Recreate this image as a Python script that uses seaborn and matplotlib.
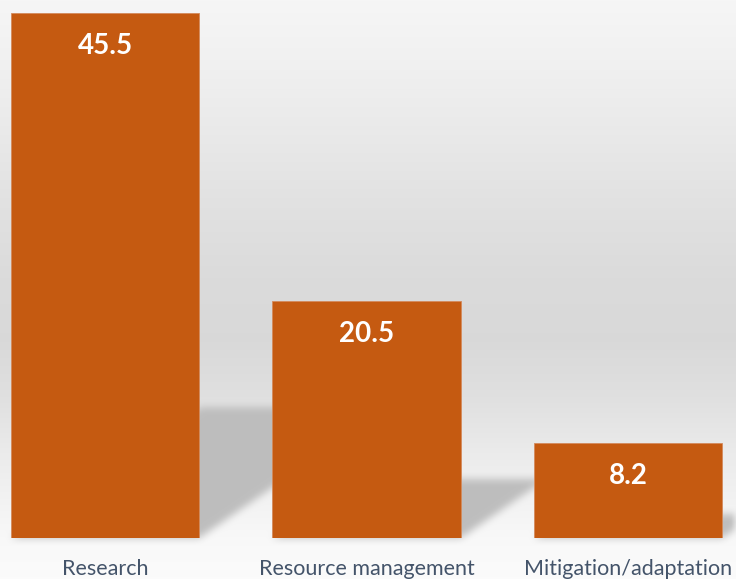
import matplotlib
matplotlib.use("Agg")
import matplotlib.pyplot as plt
from matplotlib.path import Path
import numpy as np
import seaborn as sns

# chart data
categories = ["Research", "Resource management", "Mitigation/adaptation"]
values = [45.5, 20.5, 8.2]
value_labels = ["45.5", "20.5", "8.2"]

BAR_COLOR = "#C55A11"
TEXT_COLOR = "#44546A"
W, H = 736, 579
DPI = 100

sns.set_style("white")
plt.rcParams["font.family"] = ["Lato", "DejaVu Sans"]

fig = plt.figure(figsize=(W / DPI, H / DPI), dpi=DPI)
fig.patch.set_facecolor("white")
ax = fig.add_axes([0, (H - 538) / H, 1, (538 - 13) / H])
ax.set_facecolor("none")

sns.barplot(x=categories, y=values, color=BAR_COLOR, saturation=1, width=0.72,
            edgecolor="#D48A5C", linewidth=0.6, ax=ax, zorder=3)
ax.set_ylim(0, 45.5)
ax.set_xlim(-0.4015, 2.413)
ax.set_yticks([])
ax.set_xlabel("")
ax.set_ylabel("")
ax.tick_params(axis="x", length=0, pad=15, labelsize=15.5, labelcolor=TEXT_COLOR)
sns.despine(ax=ax, left=True, bottom=True)

for bar, lab in zip(ax.patches, value_labels):
    ax.annotate(lab, (bar.get_x() + bar.get_width() / 2, bar.get_height()),
                xytext=(0, -29.5), textcoords="offset points", ha="center",
                va="baseline", color="white", fontsize=20, fontweight="bold", zorder=4)

# background: vertical grey wash with soft perspective shadows behind the bars
stops_y = [0, 60, 120, 200, 280, 340, 400, 450, 500, 540, 579]
stops_g = [0.965, 0.945, 0.92, 0.885, 0.858, 0.85, 0.88, 0.92, 0.95, 0.975, 0.985]
rows = np.arange(H)
grey = np.interp(rows, stops_y, stops_g)[:, None] * np.ones((1, W))

yy, xx = np.mgrid[0:H, 0:W]
pts = np.column_stack([xx.ravel() + 0.5, (H - yy.ravel() - 0.5)])
mask = np.zeros(H * W)
for bar in ax.patches:
    (x0, yb), (x1, yt) = ax.transData.transform(
        [(bar.get_x(), 0), (bar.get_x() + bar.get_width(), bar.get_height())])
    sh = 0.25 * (yt - yb)
    dx = 1.45 * sh
    poly = Path([(x0, yb), (x1, yb), (x1 + dx, yb + sh), (x0 + dx, yb + sh)])
    mask = np.maximum(mask, poly.contains_points(pts))
mask = mask.reshape(H, W).astype(float)


def box_blur(a, k):
    kern = np.ones(k) / k
    a = np.apply_along_axis(lambda r: np.convolve(r, kern, mode="same"), 1, a)
    a = np.apply_along_axis(lambda c: np.convolve(c, kern, mode="same"), 0, a)
    return a


mask = box_blur(box_blur(mask, 9), 9)
shade = grey * (1 - mask) + 0.745 * mask
img = np.dstack([shade, shade, shade])
fig.figimage(img, xo=0, yo=0, origin="upper", zorder=-1)

fig.savefig("out.png", dpi=DPI)
